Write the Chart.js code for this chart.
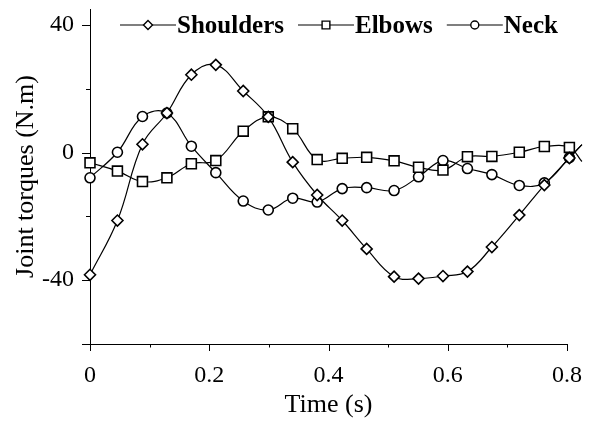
<!DOCTYPE html>
<html>
<head>
<meta charset="utf-8">
<title>Joint torques</title>
<script src="https://cdn.jsdelivr.net/npm/chart.js@4.4.0/dist/chart.umd.min.js"></script>
<style>
  html, body { margin: 0; padding: 0; background: #fff; }
  #wrap { width: 598px; height: 421px; }
</style>
</head>
<body>
<div id="wrap"><canvas id="torques"></canvas></div>
<script>
// sample times (s); the last one is only the tail of the spline, no marker
const timeS = [0, 0.046, 0.088, 0.129, 0.170, 0.211, 0.257, 0.299, 0.340, 0.381,
               0.423, 0.464, 0.510, 0.551, 0.592, 0.633, 0.674, 0.720, 0.762, 0.804, 0.825];

// joint torques (N.m)
const shoulders = [-38.3, -21.3, 2.6, 12.4, 24.4, 27.5, 19.3, 11.2, -3.0, -13.3,
                   -21.3, -30.2, -38.9, -39.5, -38.7, -37.3, -29.6, -19.6, -10.2, -1.7, 2.5];
const elbows    = [-3.2, -5.8, -9.1, -7.9, -3.5, -2.5, 6.7, 11.2, 7.5, -2.2,
                   -1.8, -1.5, -2.6, -4.6, -5.5, -1.3, -1.2, 0.1, 1.9, 1.6, -2.8];
const neck      = [-7.9, 0.1, 11.3, 12.4, 2.0, -6.3, -15.2, -18.0, -14.3, -15.5,
                   -11.3, -11.0, -11.9, -7.6, -2.5, -5.0, -6.9, -10.3, -9.5, -1.6, 2.5];

const seriesNames = ['Shoulders', 'Elbows', 'Neck'];
const xTickValues = [0, 0.1, 0.2, 0.3, 0.4, 0.5, 0.6, 0.7, 0.8];
const xLabelled   = [0, 0.2, 0.4, 0.6, 0.8];
const yTickValues = [-60, -40, -20, 0, 20, 40];
const yLabelled   = [-40, 0, 40];

const serif = '"Liberation Serif", "Times New Roman", Times, serif';
Chart.defaults.font.family = serif;
Chart.defaults.color = '#000';

const lastIdx = timeS.length - 1;

function makeSet(name, values, style, radius) {
  return {
    label: name,
    data: values.map((v, i) => ({ x: timeS[i], y: v })),
    borderColor: '#000',
    borderWidth: 1.2,
    tension: 0.4,
    fill: false,
    clip: false,
    pointStyle: style,
    pointRadius: ctx => ctx.dataIndex === lastIdx ? 0 : radius,
    pointBorderWidth: 1.6,
    pointBorderColor: '#000',
    pointBackgroundColor: '#fff',
    legendStyle: style
  };
}

// legend: line with marker in the middle, bold name right after it
const lineLegend = {
  id: 'lineLegend',
  afterDraw(chart) {
    const ctx = chart.ctx;
    const sizes = { rectRot: 4.5, rect: 5.5, circle: 4 };
    let x = 120;
    const y = 25;
    ctx.save();
    ctx.font = 'bold 25px ' + serif;
    ctx.textBaseline = 'middle';
    chart.data.datasets.forEach(ds => {
      ctx.strokeStyle = '#000';
      ctx.lineWidth = 1.2;
      ctx.beginPath();
      ctx.moveTo(x, y);
      ctx.lineTo(x + 56, y);
      ctx.stroke();
      ctx.fillStyle = '#fff';
      ctx.lineWidth = 1.4;
      Chart.helpers.drawPoint(ctx, { pointStyle: ds.legendStyle, radius: sizes[ds.legendStyle], rotation: 0, borderWidth: 1.4 }, x + 28, y);
      ctx.fillStyle = '#000';
      ctx.fillText(ds.label, x + 57, y + 2);
      x += 57 + ctx.measureText(ds.label).width + 14;
    });
    ctx.restore();
  }
};

// tick marks, long where there is a label, short in between
const tickMarks = {
  id: 'tickMarks',
  afterDraw(chart) {
    const ctx = chart.ctx;
    const xs = chart.scales.x, ys = chart.scales.y;
    ctx.save();
    ctx.strokeStyle = '#000';
    ctx.lineWidth = 1;
    ctx.beginPath();
    xTickValues.forEach(v => {
      const px = Math.round(xs.getPixelForValue(v)) + 0.5;
      const len = xLabelled.some(l => Math.abs(l - v) < 1e-9) ? 7 : 3.5;
      ctx.moveTo(px, ys.bottom);
      ctx.lineTo(px, ys.bottom + len);
    });
    yTickValues.forEach(v => {
      const py = Math.round(ys.getPixelForValue(v)) + 0.5;
      const len = (yLabelled.includes(v) || v === -60) ? 8 : 4;
      ctx.moveTo(xs.left, py);
      ctx.lineTo(xs.left - len, py);
    });
    ctx.stroke();
    ctx.restore();
  }
};

new Chart(document.getElementById('torques'), {
  type: 'line',
  data: {
    datasets: [
      makeSet(seriesNames[0], shoulders, 'rectRot', 5.5),
      makeSet(seriesNames[1], elbows, 'rect', 7),
      makeSet(seriesNames[2], neck, 'circle', 5)
    ]
  },
  options: {
    responsive: true,
    maintainAspectRatio: false,
    animation: false,
    layout: { padding: { top: 9, right: 31, bottom: 0, left: 0 } },
    plugins: {
      legend: { display: false },
      tooltip: { enabled: false }
    },
    scales: {
      x: {
        type: 'linear',
        // range set here rather than min/max so the tail past 0.8 still gets drawn
        afterDataLimits: s => { s.min = 0; s.max = 0.8; },
        afterBuildTicks: s => { s.ticks = xLabelled.map(v => ({ value: v })); },
        afterFit: s => { s.height = 77; s.paddingLeft = 0; s.paddingRight = 0; },
        ticks: {
          font: { size: 24 },
          padding: 10,
          maxRotation: 0,
          callback: v => String(+v.toFixed(1))
        },
        grid: { drawOnChartArea: false, tickLength: 7, tickColor: 'rgba(0,0,0,0)' },
        border: { display: true, color: '#000', width: 1 },
        title: { display: true, text: 'Time (s)', font: { size: 26 }, padding: 0 }
      },
      y: {
        min: -60,
        max: 45,
        afterBuildTicks: s => { s.ticks = yLabelled.map(v => ({ value: v })); },
        afterFit: s => { s.width = 90; s.paddingTop = 0; s.paddingBottom = 0; },
        ticks: { font: { size: 24 }, padding: 8 },
        grid: { drawOnChartArea: false, tickLength: 8, tickColor: 'rgba(0,0,0,0)' },
        border: { display: true, color: '#000', width: 1 },
        title: { display: true, text: 'Joint torques (N.m)', font: { size: 26 }, padding: { top: 11, bottom: 0 } }
      }
    }
  },
  plugins: [tickMarks, lineLegend]
});
</script>
</body>
</html>
